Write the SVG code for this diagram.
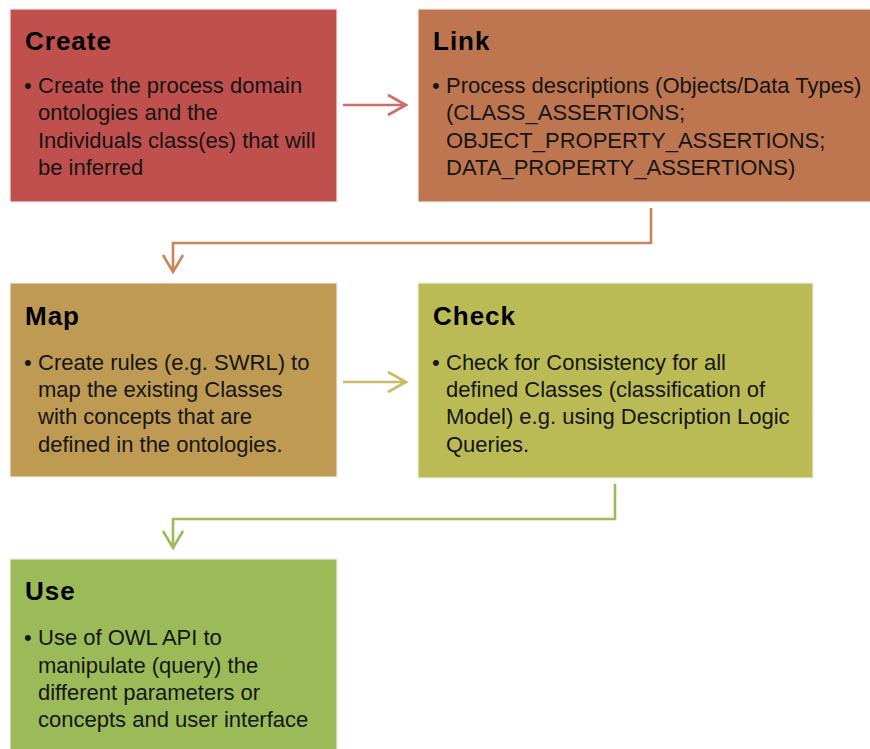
<svg xmlns="http://www.w3.org/2000/svg" width="870" height="749" viewBox="0 0 870 749">
<style>
.box{stroke:#f4ece6;stroke-width:1.2}
.t{font-family:"Liberation Sans",Arial,sans-serif;font-weight:bold;font-size:26px;letter-spacing:1px;fill:#000}
.b{font-family:"Liberation Sans",Arial,sans-serif;font-size:22px;fill:#151515}
.c{fill:none;stroke-width:2.6}
</style>
<rect width="870" height="749" fill="#fff"/>
<g id="create">
<rect class="box" x="10" y="9" width="327" height="193" fill="#C0504D"/>
<text class="t" x="25" y="50">Create</text>
<text class="b" x="24" y="93">•</text>
<text class="b"><tspan x="38" y="93">Create the process domain</tspan><tspan x="38" y="120">ontologies and the</tspan><tspan x="38" y="148">Individuals class(es) that will</tspan><tspan x="38" y="175">be inferred</tspan></text>
</g>
<g id="link">
<rect class="box" x="418" y="9" width="460" height="193" fill="#BE7650"/>
<text class="t" x="433" y="50">Link</text>
<text class="b" x="432" y="93">•</text>
<text class="b"><tspan x="446" y="93">Process descriptions (Objects/Data Types)</tspan><tspan x="446" y="120">(CLASS_ASSERTIONS;</tspan><tspan x="446" y="148">OBJECT_PROPERTY_ASSERTIONS;</tspan><tspan x="446" y="175">DATA_PROPERTY_ASSERTIONS)</tspan></text>
</g>
<g id="map">
<rect class="box" x="10" y="283" width="327" height="194" fill="#BE9A52"/>
<text class="t" x="25" y="325">Map</text>
<text class="b" x="24" y="370">•</text>
<text class="b"><tspan x="38" y="370">Create rules (e.g. SWRL) to</tspan><tspan x="38" y="397">map the existing Classes</tspan><tspan x="38" y="424">with concepts that are</tspan><tspan x="38" y="452">defined in the ontologies.</tspan></text>
</g>
<g id="check">
<rect class="box" x="418" y="283" width="395" height="195" fill="#BBBB55"/>
<text class="t" x="433" y="325">Check</text>
<text class="b" x="432" y="370">•</text>
<text class="b"><tspan x="446" y="370">Check for Consistency for all</tspan><tspan x="446" y="397">defined Classes (classification of</tspan><tspan x="446" y="424">Model) e.g. using Description Logic</tspan><tspan x="446" y="452">Queries.</tspan></text>
</g>
<g id="use">
<rect class="box" x="10" y="559" width="327" height="200" fill="#9BBB59"/>
<text class="t" x="25" y="600">Use</text>
<text class="b" x="24" y="645">•</text>
<text class="b"><tspan x="38" y="645">Use of OWL API to</tspan><tspan x="38" y="673">manipulate (query) the</tspan><tspan x="38" y="700">different parameters or</tspan><tspan x="38" y="727">concepts and user interface</tspan></text>
</g>
<g id="connectors">
<path class="c" stroke="#CF6A66" d="M343 105H406M388 95L406 105L388 115"/>
<path class="c" stroke="#C8875A" d="M651 208V243H173V272M163 255L173 272L183 255"/>
<path class="c" stroke="#C9BD63" d="M343 382H406M388 372L406 382L388 392"/>
<path class="c" stroke="#9BBB59" d="M615 484V519H173V548M163 531L173 548L183 531"/>
</g>
</svg>
